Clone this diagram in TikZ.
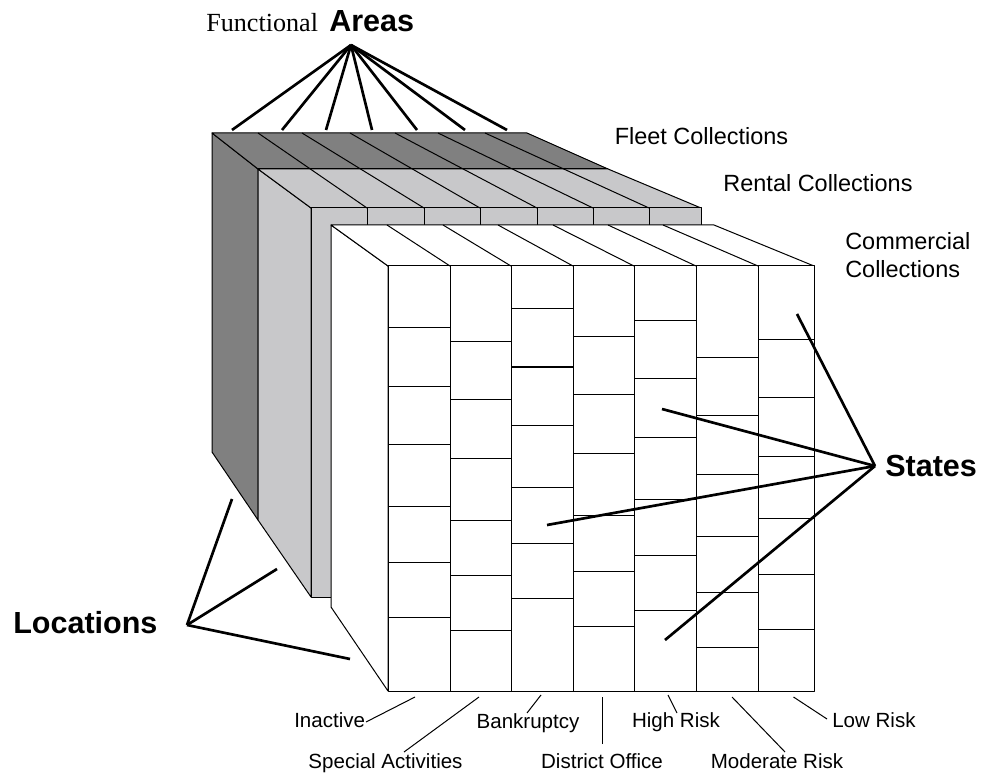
\documentclass[tikz,border=0pt]{standalone}
\usepackage{fontspec}
\setmainfont{Liberation Serif}
\setsansfont{Liberation Sans}
\definecolor{slabdark}{RGB}{128,128,128}
\definecolor{slablight}{RGB}{200,200,202}
\begin{document}
\begin{tikzpicture}[x=0.75pt,y=-0.75pt,
  face/.style={draw=black,line width=0.75pt,line join=round},
  darkface/.style={face,fill=slabdark},
  lightface/.style={face,fill=slablight},
  whiteface/.style={face,fill=white},
  edge/.style={line width=0.75pt},
  pointer/.style={line width=2pt},
  leader/.style={line width=0.75pt},
  lbl/.style={font=\sffamily\fontsize{17.6}{20.8}\selectfont,inner sep=0pt},
  smalllbl/.style={font=\sffamily\fontsize{15.4}{18}\selectfont,inner sep=0pt},
  biglbl/.style={font=\sffamily\bfseries\fontsize{22.9}{26}\selectfont,inner sep=0pt}]
\useasboundingbox (0,0) rectangle (981,773);

% ---- back slab: Fleet Collections ----
\draw[darkface] (212,133) -- (258,169) -- (258,520) -- (212,452) -- cycle;
\draw[darkface] (212,133) -- (527,133) -- (608,169) -- (258,169) -- cycle;

% ---- middle slab: Rental Collections ----
\draw[lightface] (258,169) -- (311,208) -- (311,597) -- (258,520) -- cycle;
\draw[lightface] (258,169) -- (608,169) -- (701,208) -- (311,208) -- cycle;
\draw[lightface] (311,208) -- (701,208) -- (701,597) -- (311,597) -- cycle;
\foreach \xf in {367,424,480,537,593,649}
  \draw[edge] (\xf,208) -- (\xf,240);
% column lines running over the tops of both back slabs
\foreach \xb/\xf in {258/367,302/424,350/480,395/537,438/593,485/649}
  \draw[edge] (\xb,133) -- (\xf,208);
\draw[edge] (258,169) -- (608,169);

% ---- front slab: Commercial Collections ----
\draw[whiteface] (331,225) -- (388,266) -- (388,691) -- (331,607) -- cycle;
\draw[whiteface] (331,225) -- (714,225) -- (814,266) -- (388,266) -- cycle;
\draw[whiteface] (388,266) rectangle (814,691);
\foreach \xb/\xf in {387/450,443/511,498/573,553/634,608/696,663/758}
  \draw[edge] (\xb,225) -- (\xf,266);
\foreach \x in {450,511,573,634,696,758}
  \draw[edge] (\x,266) -- (\x,691);
% staggered state cells in each location column
\foreach \xl/\xr/\ys in {
    388/450/{328,386,444.7,506.3,562,617},
    450/511/{341.7,399.7,458.7,520,575.7,630.7},
    511/573/{309,367,425.7,487.7,543.3,598.3},
    573/634/{337,394.7,453.3,515,571,626},
    634/696/{321,378.7,437.7,499.3,555,610},
    696/758/{358,415.7,474.3,536.3,592,647},
    758/814/{340,397.7,456.7,518,574,629}}
  \foreach \y in \ys
    \draw[edge] (\xl,\y) -- (\xr+1,\y);

% ---- titles ----
\node[lbl,anchor=base] (fleet) at (701.5,145) {Fleet Collections};
\node[lbl,anchor=base] (rental) at (818,191.7) {Rental Collections};
\node[lbl,anchor=north west,align=left] (commercial) at (845,232)
  {Commercial\\Collections};

\node[font=\rmfamily\fontsize{19.6}{23}\selectfont,inner sep=0pt,anchor=base west]
  (functional) at (206,31.7) {Functional};
\node[biglbl,anchor=base west] (areas) at (329,32) {Areas};
\node[biglbl,anchor=base west] (locations) at (13,633.3) {Locations};
\node[biglbl,anchor=base west] (states) at (885,476.7) {States};

% ---- pointer fans ----
\coordinate (areashub) at (351,45);
\foreach \x [count=\i] in {232,282,326,372,417,465,507} {
  \coordinate (area\i) at (\x,130);
  \draw[pointer] (areashub) -- (area\i);
}
\coordinate (lochub) at (187,625);
\coordinate (loc1) at (232,499);
\coordinate (loc2) at (277,569);
\coordinate (loc3) at (350,659);
\foreach \i in {1,2,3} \draw[pointer] (lochub) -- (loc\i);

\coordinate (statehub) at (875,466);
\coordinate (state1) at (797,314);
\coordinate (state2) at (662,409);
\coordinate (state3) at (547,525);
\coordinate (state4) at (665,640);
\foreach \i in {1,2,3,4} \draw[pointer] (statehub) -- (state\i);

% ---- location labels ----
\node[smalllbl,anchor=base west] (inactive) at (294,727) {Inactive};
\node[smalllbl,anchor=base] (special) at (385.5,768) {Special Activities};
\node[smalllbl,anchor=base] (bankruptcy) at (528,728) {Bankruptcy};
\node[smalllbl,anchor=base] (district) at (602,768) {District Office};
\node[smalllbl,anchor=base] (highrisk) at (676,727) {High Risk};
\node[smalllbl,anchor=base] (moderate) at (777,768) {Moderate Risk};
\node[smalllbl,anchor=base west] (lowrisk) at (832,727) {Low Risk};

\coordinate (inactiveA) at (366,722);   \coordinate (inactiveB) at (415,697);
\coordinate (specialA) at (404,752);    \coordinate (specialB) at (479,697);
\coordinate (bankA) at (527,713);       \coordinate (bankB) at (541,695);
\coordinate (districtA) at (602.5,744); \coordinate (districtB) at (602.5,697);
\coordinate (highA) at (677,713);       \coordinate (highB) at (668,695);
\coordinate (moderateA) at (785,752);   \coordinate (moderateB) at (732,697);
\coordinate (lowA) at (827,719);        \coordinate (lowB) at (793.5,697);
\foreach \n in {inactive,special,bank,district,high,moderate,low}
  \draw[leader] (\n A) -- (\n B);
\end{tikzpicture}
\end{document}
